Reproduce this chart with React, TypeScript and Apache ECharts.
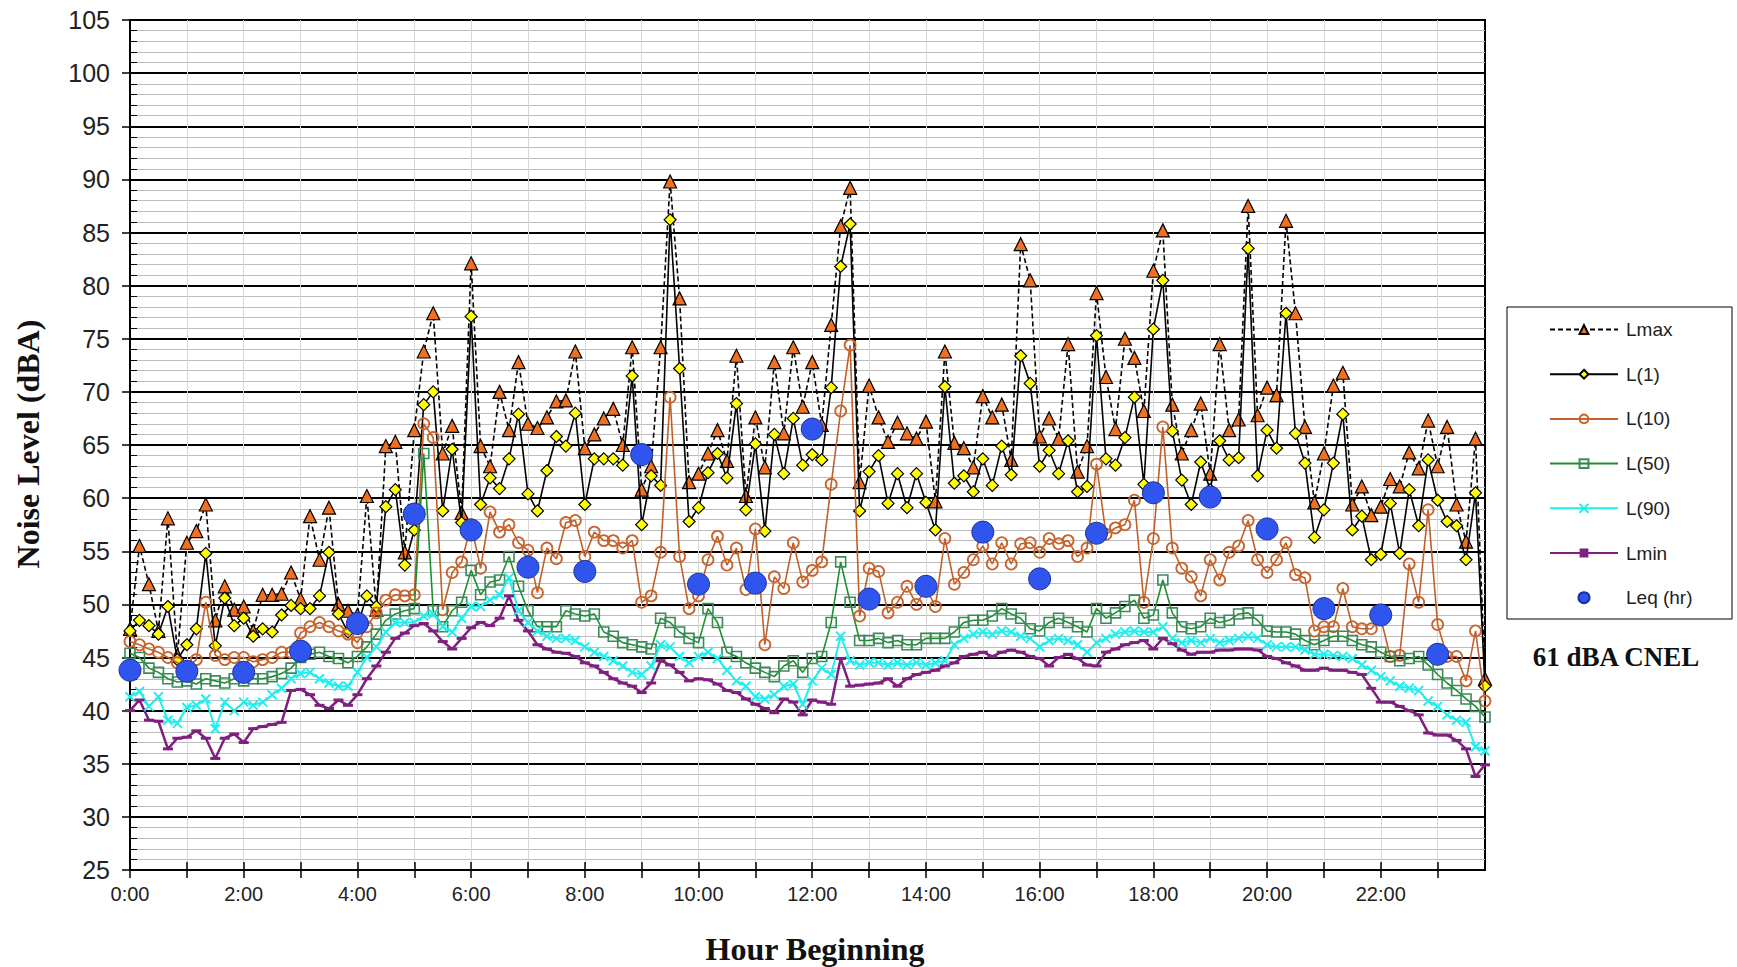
import React, { useEffect, useRef } from "react";
import * as echarts from "echarts";

// 10-minute intervals, 0:00 .. 23:50
const times: string[] = Array.from(
  { length: 144 },
  (_, i) => `${Math.floor(i / 6)}:${String((i % 6) * 10).padStart(2, "0")}`
);

const lmax: number[] = [
  47.7, 55.5, 51.9, 47.5, 58.1, 45.2, 55.8, 56.9, 59.4, 48.5, 51.7, 49.5, 49.8, 47.5, 50.9, 50.9, 51.0, 53.0,
  50.5, 58.3, 54.2, 59.1, 50.0, 49.4, 49.0, 60.2, 49.5, 64.9, 65.3, 54.9, 66.4, 73.8, 77.4, 64.2, 66.8, 58.6,
  82.1, 64.9, 63.0, 70.0, 66.4, 72.8, 67.0, 66.6, 67.6, 69.1, 69.2, 73.8, 64.7, 66.0, 67.5, 68.4, 65.0, 74.2,
  60.8, 63.0, 74.2, 89.8, 78.8, 61.5, 62.3, 64.2, 66.4, 63.5, 73.4, 60.2, 67.6, 62.9, 72.8, 66.1, 74.2, 68.6,
  72.8, 66.9, 76.3, 85.6, 89.2, 61.5, 70.6, 67.6, 65.3, 67.1, 66.1, 65.6, 67.2, 59.7, 73.8, 65.2, 64.7, 62.9,
  69.6, 67.6, 68.8, 63.6, 83.9, 80.5, 65.8, 67.5, 65.6, 74.5, 62.5, 64.9, 79.3, 71.4, 66.5, 75.0, 73.2, 68.2,
  81.4, 85.2, 68.8, 64.2, 66.4, 68.9, 62.3, 74.5, 66.4, 67.4, 87.5, 67.8, 70.4, 69.7, 86.1, 77.4, 66.7, 59.6,
  64.2, 70.6, 71.8, 59.4, 61.1, 58.4, 59.2, 61.8, 61.1, 64.3, 62.8, 67.3, 63.0, 66.7, 59.4, 55.9, 65.6, 43.0,
];

const l1: number[] = [
  47.5, 48.5, 48.0, 47.2, 49.8, 44.8, 46.2, 47.7, 54.8, 46.1, 50.6, 48.0, 48.7, 47.0, 47.7, 47.4, 49.0, 49.9,
  49.6, 49.6, 50.8, 54.9, 49.1, 47.4, 48.0, 50.8, 49.8, 59.2, 60.8, 53.7, 57.0, 68.8, 70.0, 58.8, 64.6, 57.7,
  77.1, 59.4, 61.9, 60.9, 63.7, 67.9, 60.4, 58.8, 62.6, 65.8, 64.9, 68.0, 59.4, 63.7, 63.7, 63.7, 63.1, 71.5,
  57.5, 62.1, 61.2, 86.2, 72.2, 57.8, 59.1, 62.4, 64.2, 61.9, 68.9, 58.9, 65.1, 56.9, 66.0, 62.3, 67.5, 63.1,
  64.1, 63.6, 70.4, 81.8, 85.8, 58.8, 62.5, 64.0, 59.5, 62.3, 59.1, 62.3, 59.6, 57.0, 70.5, 61.4, 62.1, 60.6,
  63.7, 61.2, 64.9, 62.2, 73.4, 70.8, 63.0, 64.5, 62.3, 65.4, 60.6, 61.1, 75.3, 63.7, 63.1, 65.7, 69.5, 61.3,
  75.9, 80.5, 66.3, 61.7, 59.4, 63.4, 60.8, 65.4, 63.6, 63.8, 83.5, 62.1, 66.4, 64.7, 77.4, 66.1, 63.3, 56.3,
  58.9, 63.3, 67.9, 57.0, 58.3, 54.2, 54.7, 59.5, 54.8, 60.8, 57.4, 63.6, 59.8, 57.8, 57.4, 54.2, 60.5, 42.3,
];

const l10: number[] = [
  46.5, 46.2, 45.8, 45.5, 45.0, 44.5, 44.0, 44.8, 50.2, 45.2, 44.8, 45.0, 45.0, 44.6, 44.8, 45.0, 45.5, 45.5,
  47.3, 47.9, 48.3, 47.9, 47.5, 47.2, 46.4, 47.9, 49.2, 50.4, 50.9, 50.8, 50.9, 67.0, 65.7, 49.5, 53.0, 54.0,
  57.5, 53.4, 58.7, 56.8, 57.5, 55.8, 55.1, 51.1, 55.3, 54.3, 57.7, 57.9, 54.5, 56.8, 56.0, 56.0, 55.3, 56.0,
  50.2, 50.8, 54.9, 69.5, 54.5, 49.6, 50.8, 54.2, 56.4, 53.7, 55.3, 51.4, 57.1, 46.2, 52.6, 51.5, 55.8, 52.1,
  53.2, 54.0, 61.3, 68.2, 74.4, 48.9, 53.4, 53.1, 49.2, 50.2, 51.7, 50.0, 51.5, 49.8, 56.2, 51.9, 53.0, 54.2,
  55.5, 53.8, 55.8, 53.8, 55.7, 55.8, 54.9, 56.2, 55.7, 56.0, 54.5, 55.3, 63.2, 56.6, 57.2, 57.5, 59.8, 50.2,
  56.2, 66.7, 55.3, 53.4, 52.6, 50.8, 54.2, 52.3, 54.9, 55.5, 57.9, 54.2, 53.0, 54.2, 55.8, 52.8, 52.5, 47.5,
  47.9, 47.9, 51.5, 47.9, 47.7, 47.7, 48.7, 45.1, 45.2, 53.8, 50.2, 58.9, 48.1, 45.1, 45.1, 42.8, 47.5, 40.9,
];

const l50: number[] = [
  45.4, 45.0, 44.0, 43.6, 43.0, 42.7, 42.8, 42.5, 43.0, 42.8, 42.6, 43.0, 42.8, 43.0, 43.0, 43.2, 43.5, 44.0,
  45.0, 45.3, 45.5, 45.1, 44.9, 44.5, 45.1, 46.0, 47.2, 48.5, 49.1, 49.4, 49.6, 64.2, 49.4, 47.9, 49.4, 50.2,
  53.2, 50.9, 52.1, 52.3, 54.5, 51.7, 49.4, 47.9, 47.9, 47.9, 49.4, 49.1, 48.9, 49.1, 47.4, 47.0, 46.4, 46.2,
  46.0, 45.8, 48.7, 48.3, 47.4, 46.8, 46.4, 49.6, 48.3, 45.5, 45.1, 44.5, 44.0, 43.6, 43.2, 44.2, 44.7, 43.6,
  44.9, 45.1, 48.3, 54.0, 50.2, 46.6, 46.6, 46.8, 46.4, 46.6, 46.2, 46.2, 46.8, 46.8, 46.8, 47.4, 48.3, 48.5,
  48.5, 48.9, 49.6, 49.1, 48.7, 47.7, 47.5, 48.3, 48.7, 48.3, 47.9, 47.4, 49.6, 48.7, 49.2, 49.8, 50.4, 48.7,
  49.0, 52.3, 49.2, 47.9, 47.7, 47.9, 48.7, 48.3, 48.5, 49.1, 49.2, 48.5, 47.5, 47.4, 47.4, 47.2, 46.6, 46.2,
  46.6, 47.0, 47.0, 46.6, 46.2, 46.0, 45.5, 45.1, 44.7, 44.9, 45.1, 44.3, 43.4, 42.6, 41.9, 41.1, 40.4, 39.4,
];

const l90: number[] = [
  41.3, 41.8, 40.4, 41.3, 39.1, 38.8, 40.3, 40.5, 41.1, 38.3, 40.8, 40.0, 40.8, 40.5, 40.8, 41.5, 42.1, 43.0,
  43.5, 43.6, 43.0, 42.6, 42.3, 42.3, 43.6, 45.0, 46.0, 47.4, 48.3, 48.3, 48.3, 48.9, 49.1, 47.9, 47.4, 48.7,
  49.8, 49.8, 50.4, 50.9, 52.5, 49.4, 48.3, 47.5, 47.0, 46.8, 46.8, 46.6, 46.0, 45.5, 45.1, 44.7, 44.2, 43.6,
  43.4, 44.2, 46.2, 46.0, 45.1, 44.5, 45.1, 45.5, 44.9, 43.8, 42.8, 42.3, 41.3, 41.1, 41.5, 42.3, 42.5, 40.6,
  42.8, 44.0, 43.4, 47.0, 44.7, 44.3, 44.5, 44.5, 44.3, 44.5, 44.3, 44.5, 44.3, 44.5, 44.7, 46.2, 46.8, 47.2,
  47.4, 47.2, 47.5, 47.4, 47.0, 46.8, 46.0, 46.6, 46.8, 46.6, 46.2, 45.5, 46.4, 46.8, 47.2, 47.4, 47.5, 47.4,
  47.4, 47.9, 46.8, 46.4, 46.6, 46.4, 46.8, 46.4, 46.6, 46.8, 47.0, 46.8, 46.2, 46.0, 46.0, 46.0, 45.7, 45.3,
  45.3, 45.2, 45.1, 44.9, 44.3, 43.8, 43.2, 42.8, 42.3, 42.1, 41.9, 40.9, 40.4, 39.6, 39.1, 38.9, 36.6, 36.2,
];

const lmin: number[] = [
  40.0, 41.0, 39.1, 39.0, 36.4, 37.4, 37.5, 38.1, 37.4, 35.5, 37.4, 37.8, 37.0, 38.3, 38.5, 38.7, 38.9, 41.9,
  42.0, 41.5, 40.5, 40.2, 41.0, 40.5, 41.5, 43.0, 44.2, 45.5, 46.8, 47.3, 48.0, 48.2, 47.5, 46.5, 45.8, 46.8,
  47.8, 48.3, 48.0, 48.7, 50.8, 48.5, 47.5, 46.2, 45.8, 45.5, 45.4, 45.1, 44.5, 44.2, 43.6, 43.0, 42.6, 42.3,
  41.7, 42.6, 44.7, 44.3, 43.6, 42.8, 43.0, 42.9, 42.5, 41.9, 41.7, 41.1, 40.6, 40.2, 39.8, 41.1, 40.8, 39.6,
  41.0, 40.8, 40.6, 44.9, 42.3, 42.4, 42.5, 42.6, 43.0, 42.3, 43.0, 43.4, 43.6, 43.8, 44.2, 44.5, 45.1, 45.3,
  45.5, 45.1, 45.5, 45.7, 45.5, 45.1, 44.9, 44.2, 45.0, 45.3, 44.9, 44.3, 44.2, 45.5, 45.8, 46.2, 46.4, 46.6,
  45.8, 46.8, 46.3, 45.7, 45.3, 45.5, 45.5, 45.7, 45.7, 45.8, 45.8, 45.7, 45.1, 44.9, 44.5, 44.2, 43.8, 43.8,
  44.0, 43.8, 43.8, 43.6, 43.4, 42.1, 40.8, 40.8, 40.4, 40.0, 39.6, 37.9, 37.7, 37.7, 37.2, 36.4, 33.8, 34.9,
];

// hourly Leq, one per hour beginning 0:00 .. 23:00
const leqHourly: number[] = [
  43.8, 43.7, 43.6, 45.6, 48.2, 58.5, 57.0, 53.5, 53.1, 64.1, 51.9, 52.0,
  66.5, 50.5, 51.7, 56.8, 52.4, 56.7, 60.5, 60.1, 57.1, 49.6, 49.0, 45.3,
];

const seriesNames = ["Lmax", "L(1)", "L(10)", "L(50)", "L(90)", "Lmin", "Leq (hr)"];

export default function App() {
  const ref = useRef<HTMLDivElement>(null);

  useEffect(() => {
    if (!ref.current) return;
    const chart = echarts.init(ref.current, undefined, { renderer: "svg" });

    const lineBase = {
      type: "line" as const,
      showAllSymbol: true,
      xAxisIndex: 0,
      yAxisIndex: 0,
    };

    chart.setOption({
      animation: false,
      backgroundColor: "#ffffff",
      textStyle: { fontFamily: "Liberation Sans" },
      grid: {
        left: 130,
        right: 252,
        top: 20,
        bottom: 97,
        show: true,
        borderColor: "#000",
        borderWidth: 2,
      },
      xAxis: [
        {
          type: "category",
          data: times,
          boundaryGap: false,
          position: "bottom",
          axisLine: { lineStyle: { color: "#000", width: 2 } },
          axisTick: { interval: 5, length: 8, lineStyle: { color: "#000", width: 1.5 } },
          axisLabel: { interval: 11, fontSize: 20, color: "#222", margin: 14 },
          splitLine: { show: true, interval: 5, lineStyle: { color: "#d6d6d6", width: 1 } },
        },
        {
          type: "category",
          data: times,
          boundaryGap: false,
          position: "bottom",
          axisLine: { show: false },
          axisTick: { interval: 5, inside: true, length: 8, lineStyle: { color: "#000", width: 1.5 } },
          axisLabel: { show: false },
          splitLine: { show: false },
        },
      ],
      yAxis: [
        {
          type: "value",
          min: 25,
          max: 105,
          interval: 5,
          position: "left",
          axisLine: { show: true, lineStyle: { color: "#000", width: 2 } },
          axisTick: { show: true, length: 8, lineStyle: { color: "#000", width: 1.5 } },
          axisLabel: { fontSize: 25, color: "#222", margin: 20 },
          splitLine: { show: true, lineStyle: { color: "#000", width: 2 } },
          minorTick: { show: false, splitNumber: 5 },
          minorSplitLine: { show: true, lineStyle: { color: "#bcbcbc", width: 1 } },
        },
        {
          type: "value",
          min: 25,
          max: 105,
          interval: 5,
          position: "left",
          axisLine: { show: false },
          axisTick: { show: false, inside: true },
          axisLabel: { show: false },
          splitLine: { show: false },
          minorTick: { show: true, splitNumber: 5, length: 7, lineStyle: { color: "#000", width: 1 } },
        },
      ],
      legend: {
        orient: "vertical",
        left: 1544,
        top: 315,
        itemWidth: 68,
        itemHeight: 11,
        itemGap: 25.7,
        textStyle: { fontSize: 19, color: "#222", fontFamily: "Liberation Sans", padding: [0, 0, 0, 3] },
        data: seriesNames,
      },
      graphic: [
        {
          type: "rect",
          shape: { x: 1507, y: 307, width: 225, height: 312 },
          style: { fill: "transparent", stroke: "#000", lineWidth: 1 },
          z: -1,
        },
        {
          type: "text",
          x: 28,
          y: 444,
          rotation: Math.PI / 2,
          style: {
            text: "Noise Level (dBA)",
            fontSize: 32,
            fontWeight: "bold",
            fontFamily: "Liberation Serif",
            fill: "#111",
            align: "center",
            verticalAlign: "middle",
          },
        },
        {
          type: "text",
          x: 815,
          y: 949,
          style: {
            text: "Hour Beginning",
            fontSize: 32,
            fontWeight: "bold",
            fontFamily: "Liberation Serif",
            fill: "#111",
            align: "center",
            verticalAlign: "middle",
          },
        },
        {
          type: "text",
          x: 1616,
          y: 657,
          style: {
            text: "61 dBA CNEL",
            fontSize: 27,
            fontWeight: "bold",
            fontFamily: "Liberation Serif",
            fill: "#111",
            align: "center",
            verticalAlign: "middle",
          },
        },
      ],
      series: [
        {
          ...lineBase,
          name: "Lmax",
          data: lmax,
          symbol: "triangle",
          symbolSize: 13,
          lineStyle: { color: "#000", width: 1.6, type: [5, 3] },
          itemStyle: { color: "#EE7020", borderColor: "#000", borderWidth: 1.2 },
          z: 3,
        },
        {
          ...lineBase,
          name: "L(1)",
          data: l1,
          symbol: "diamond",
          symbolSize: 12,
          lineStyle: { color: "#000", width: 1.6 },
          itemStyle: { color: "#FFFF00", borderColor: "#000", borderWidth: 1.2 },
          z: 4,
        },
        {
          ...lineBase,
          name: "L(10)",
          data: l10,
          symbol: "circle",
          symbolSize: 11,
          lineStyle: { color: "#C0602A", width: 1.6 },
          itemStyle: { color: "rgba(255,255,255,0)", borderColor: "#C8642D", borderWidth: 1.8 },
          z: 5,
        },
        {
          ...lineBase,
          name: "L(50)",
          data: l50,
          symbol: "rect",
          symbolSize: 10,
          lineStyle: { color: "#1F8F2F", width: 1.6 },
          itemStyle: { color: "rgba(255,255,255,0)", borderColor: "#3A8A5A", borderWidth: 1.6 },
          z: 5,
        },
        {
          ...lineBase,
          name: "L(90)",
          data: l90,
          symbol: "path://M0,0L10,10M10,0L0,10",
          symbolSize: 9,
          lineStyle: { color: "#22EEEE", width: 2 },
          itemStyle: { color: "#22EEEE", borderColor: "#22EEEE", borderWidth: 2 },
          z: 6,
        },
        {
          ...lineBase,
          name: "Lmin",
          data: lmin,
          symbol: "rect",
          symbolSize: [10, 3],
          lineStyle: { color: "#7F1F7F", width: 2.5 },
          itemStyle: { color: "#7F1F7F" },
          z: 6,
        },
        {
          type: "scatter",
          name: "Leq (hr)",
          xAxisIndex: 0,
          yAxisIndex: 0,
          data: leqHourly.map((v, h) => [times[h * 6], v]),
          symbol: "circle",
          symbolSize: 22,
          itemStyle: { color: "#2F55EE", borderColor: "#1A3399", borderWidth: 1, opacity: 1 },
          z: 10,
        },
      ],
    });

    return () => {
      chart.dispose();
    };
  }, []);

  return (
    <div
      ref={ref}
      style={{ position: "fixed", left: 0, top: 0, width: 1737, height: 967, background: "#fff" }}
    />
  );
}
